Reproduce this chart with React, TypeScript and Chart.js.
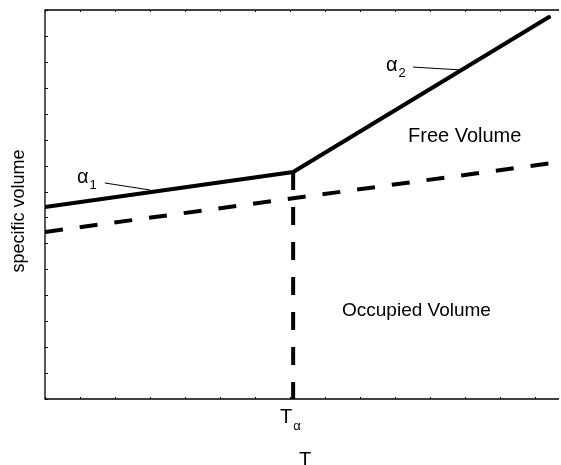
import React, { useEffect, useRef } from "react";
import { Chart, registerables } from "chart.js";

Chart.register(...registerables);

// Temperature axis (arbitrary units) and specific volume (arbitrary units)
const glassT = [0, 7.09, 14.4];
const glassV = [7.4, 8.75, 14.73];
const occupiedT = [0, 14.72];
const occupiedV = [6.44, 9.14];
const transitionT = [7.09, 7.09];
const transitionV = [8.75, 0];
const leader1T = [1.71, 3.0];
const leader1V = [8.33, 8.06];
const leader2T = [10.51, 11.86];
const leader2V = [12.8, 12.69];
const xTicks = [0, 1, 2, 3, 4, 5, 6, 7, 8, 9, 10, 11, 12, 13, 14];
const yTicks = [0, 1, 2, 3, 4, 5, 6, 7, 8, 9, 10, 11, 12, 13, 14, 15];
const xMax = 14.743;

const pts = (xs: number[], ys: number[]) => xs.map((x, i) => ({ x, y: ys[i] }));

const FONT = "'Liberation Sans', Arial, sans-serif";

const framePlugin = {
  id: "frame",
  afterDraw(chart: any) {
    const { ctx, chartArea: a, scales } = chart;
    const xs = scales.x;
    const ys = scales.y;
    ctx.save();
    ctx.strokeStyle = "#000";
    ctx.lineWidth = 1.3;
    ctx.beginPath();
    ctx.moveTo(a.right - 2, a.top);
    ctx.lineTo(a.left, a.top);
    ctx.lineTo(a.left, a.bottom);
    ctx.lineTo(a.right - 2, a.bottom);
    ctx.stroke();
    ctx.lineWidth = 1;
    for (const t of yTicks) {
      const py = Math.round(ys.getPixelForValue(t)) + 0.5;
      ctx.beginPath();
      ctx.moveTo(a.left, py);
      ctx.lineTo(a.left + 3, py);
      ctx.stroke();
    }
    for (const t of xTicks) {
      const px = Math.round(xs.getPixelForValue(t)) + 0.5;
      ctx.beginPath();
      ctx.moveTo(px, a.bottom);
      ctx.lineTo(px, a.bottom - 2);
      ctx.moveTo(px, a.top);
      ctx.lineTo(px, a.top + 2);
      ctx.stroke();
    }
    ctx.fillStyle = "#000";
    ctx.textBaseline = "alphabetic";
    const sub = (main: string, s: string, x: number, y: number, fs: number, ss: number, dy: number) => {
      ctx.font = `${fs}px ${FONT}`;
      ctx.textAlign = "left";
      ctx.fillText(main, x, y);
      const w = ctx.measureText(main).width;
      ctx.font = `${ss}px ${FONT}`;
      ctx.fillText(s, x + w + 1, y + dy);
    };
    sub("α", "1", 77, 183, 20, 13, 6);
    sub("α", "2", 386, 71, 20, 13, 6);
    sub("T", "α", 280, 423, 20, 13, 7);
    ctx.font = `20px ${FONT}`;
    ctx.textAlign = "left";
    ctx.fillText("Free Volume", 408, 142);
    ctx.font = `19px ${FONT}`;
    ctx.fillText("Occupied Volume", 342, 316);
    ctx.font = `20px ${FONT}`;
    ctx.textAlign = "center";
    ctx.fillText("T", 305, 466);
    ctx.save();
    ctx.translate(24, 211);
    ctx.rotate(-Math.PI / 2);
    ctx.font = `18px ${FONT}`;
    ctx.textAlign = "center";
    ctx.fillText("specific volume", 0, 0);
    ctx.restore();
    ctx.restore();
  },
};

export default function App() {
  const ref = useRef<HTMLCanvasElement>(null);
  useEffect(() => {
    if (!ref.current) return;
    const chart = new Chart(ref.current, {
      type: "scatter",
      data: {
        datasets: [
          {
            data: pts(glassT, glassV),
            showLine: true,
            borderColor: "#000",
            borderWidth: 4,
            pointRadius: 0,
            borderCapStyle: "round",
            borderJoinStyle: "miter",
          },
          {
            data: pts(occupiedT, occupiedV),
            showLine: true,
            borderColor: "#000",
            borderWidth: 4,
            pointRadius: 0,
            borderDash: [18, 17],
            borderCapStyle: "butt",
          },
          {
            data: pts(transitionT, transitionV),
            showLine: true,
            borderColor: "#000",
            borderWidth: 4,
            pointRadius: 0,
            borderDash: [18, 17],
            borderCapStyle: "butt",
          },
          {
            data: pts(leader1T, leader1V),
            showLine: true,
            borderColor: "#000",
            borderWidth: 1,
            pointRadius: 0,
          },
          {
            data: pts(leader2T, leader2V),
            showLine: true,
            borderColor: "#000",
            borderWidth: 1,
            pointRadius: 0,
          },
        ],
      },
      options: {
        responsive: false,
        animation: false,
        devicePixelRatio: 1,
        layout: { padding: { left: 45, top: 10, right: 0, bottom: 66 } },
        plugins: { legend: { display: false }, tooltip: { enabled: false } },
        scales: {
          x: { type: "linear", min: 0, max: xMax, display: false },
          y: { type: "linear", min: 0, max: 15, display: false },
        },
      },
      plugins: [framePlugin],
    } as any);
    return () => chart.destroy();
  }, []);
  return (
    <div
      style={{
        position: "fixed",
        left: 0,
        top: 0,
        width: 561,
        height: 465,
        overflow: "hidden",
        background: "#fff",
      }}
    >
      <canvas ref={ref} width={561} height={465} style={{ display: "block" }} />
    </div>
  );
}
